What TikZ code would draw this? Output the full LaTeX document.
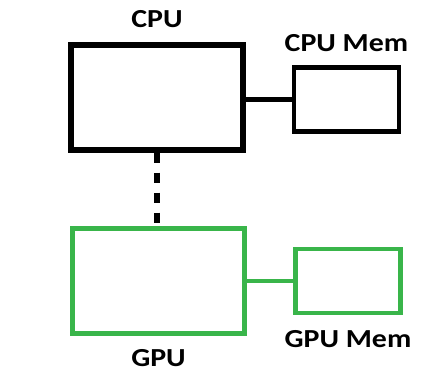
\documentclass[tikz,border=0pt]{standalone}
\usepackage{fontspec}
\newfontfamily\lblfont{Carlito}[FakeStretch=1.15]
\usepackage{xcolor}
\usepackage{tikz}
\usetikzlibrary{positioning}

\definecolor{gpugreen}{RGB}{57,181,74}

\begin{document}
\begin{tikzpicture}[
    x=1pt, y=1pt,
    unit/.style={draw, line width=5.5pt, minimum width=172pt, minimum height=105pt, inner sep=0pt},
    mem/.style={draw, line width=4.5pt, minimum width=105pt, minimum height=64pt, inner sep=0pt},
    lbl/.style={inner sep=0pt, font=\lblfont\bfseries\fontsize{26}{30}\selectfont},
    link/.style={line width=4.5pt},
]
\useasboundingbox (0,0) rectangle (427,371);

\node[unit] (cpu) at (157,273.5) {};
\node[mem, right=46pt of cpu, yshift=-2pt] (cpumem) {};
\node[unit, draw=gpugreen, below=73pt of cpu, xshift=1.5pt] (gpu) {};
\node[mem, draw=gpugreen, right=46pt of gpu] (gpumem) {};

\node[lbl, above=14pt of cpu] (cpulbl) {CPU};
\node[lbl, above=13pt of cpumem] (cpumemlbl) {CPU Mem};
\node[lbl, below=13pt of gpu] (gpulbl) {GPU};
\node[lbl, below=15pt of gpumem] (gpumemlbl) {GPU Mem};

\draw[link] (cpumem.west -| cpu.east) -- (cpumem.west);
\draw[link, gpugreen] (gpumem.west -| gpu.east) -- (gpumem.west);
\draw[line width=6pt, dash pattern=on 10pt off 10pt] (cpu.south) -- (cpu.south |- gpu.north);
\end{tikzpicture}
\end{document}
